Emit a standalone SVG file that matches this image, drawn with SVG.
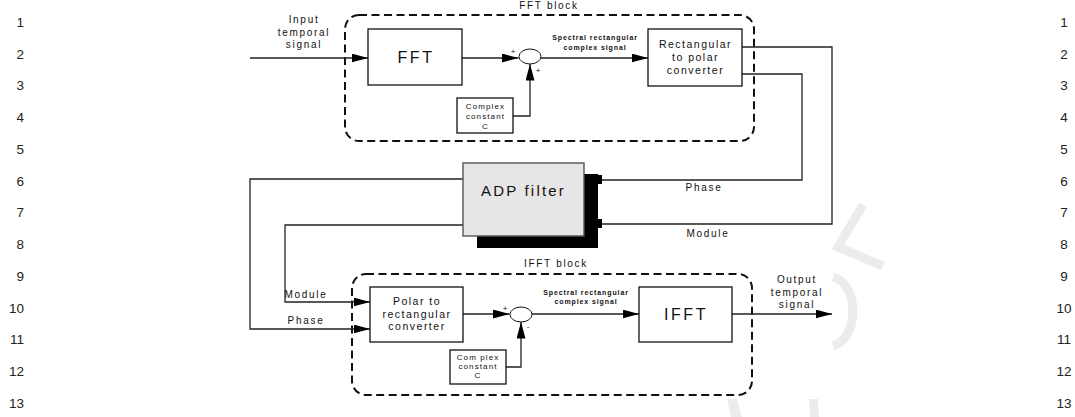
<svg xmlns="http://www.w3.org/2000/svg" width="1075" height="417" viewBox="0 0 1075 417">
<style>
text{font-family:"Liberation Sans",Arial,sans-serif;fill:#111}
.ln{font-size:13.5px;fill:#222}
.box{fill:#fff;stroke:#111;stroke-width:1.3}
.blk{fill:none;stroke:#111;stroke-width:2;stroke-dasharray:8 4.5}
.wire{fill:none;stroke:#222;stroke-width:1.3}
.sum{fill:#fff;stroke:#111;stroke-width:1}
.lbl{font-size:10px;letter-spacing:1.7px;text-anchor:middle}
.big{font-size:16px;letter-spacing:2.6px;text-anchor:middle}
.mid{font-size:10.5px;letter-spacing:1.5px;text-anchor:middle}
.cc{font-size:8px;letter-spacing:1.1px;text-anchor:middle}
.sp{font-size:7px;font-weight:bold;letter-spacing:0.9px;text-anchor:middle}
.sg{font-size:8px;text-anchor:middle}
.wm{fill:none;stroke:#ececec;stroke-width:9}
</style>
<defs>
<marker id="ah" markerUnits="userSpaceOnUse" markerWidth="17" markerHeight="10" refX="16.5" refY="4.5" orient="auto">
<path d="M0,0 L16.5,4.5 L0,9 z" fill="#000"/>
</marker>
</defs>

<g id="watermark">
<path class="wm" d="M863,205 L838,247 L883,266" stroke-width="10"/>
<path class="wm" d="M833,277 A24,35 0 0 1 833,346"/>
<path d="M727,399 L737,399 L742,417 L731,417 z" fill="#ececec"/>
<path d="M809,399 L818,399 L819,417 L810,417 z" fill="#ececec"/>
</g>

<g id="line-numbers-left">
<text class="ln" x="24" y="26.7" text-anchor="end">1</text>
<text class="ln" x="24" y="58.5" text-anchor="end">2</text>
<text class="ln" x="24" y="90.2" text-anchor="end">3</text>
<text class="ln" x="24" y="122" text-anchor="end">4</text>
<text class="ln" x="24" y="153.7" text-anchor="end">5</text>
<text class="ln" x="24" y="185.5" text-anchor="end">6</text>
<text class="ln" x="24" y="217.2" text-anchor="end">7</text>
<text class="ln" x="24" y="249" text-anchor="end">8</text>
<text class="ln" x="24" y="280.7" text-anchor="end">9</text>
<text class="ln" x="24" y="312.5" text-anchor="end">10</text>
<text class="ln" x="24" y="344.2" text-anchor="end">11</text>
<text class="ln" x="24" y="376" text-anchor="end">12</text>
<text class="ln" x="24" y="407.7" text-anchor="end">13</text>
</g>
<g id="line-numbers-right">
<text class="ln" x="1064" y="26.7" text-anchor="middle">1</text>
<text class="ln" x="1064" y="58.5" text-anchor="middle">2</text>
<text class="ln" x="1064" y="90.2" text-anchor="middle">3</text>
<text class="ln" x="1064" y="122" text-anchor="middle">4</text>
<text class="ln" x="1064" y="153.7" text-anchor="middle">5</text>
<text class="ln" x="1064" y="185.5" text-anchor="middle">6</text>
<text class="ln" x="1064" y="217.2" text-anchor="middle">7</text>
<text class="ln" x="1064" y="249" text-anchor="middle">8</text>
<text class="ln" x="1064" y="280.7" text-anchor="middle">9</text>
<text class="ln" x="1064" y="312.5" text-anchor="middle">10</text>
<text class="ln" x="1064" y="344.2" text-anchor="middle">11</text>
<text class="ln" x="1064" y="376" text-anchor="middle">12</text>
<text class="ln" x="1064" y="407.7" text-anchor="middle">13</text>
</g>

<g id="fft-block">
<rect class="blk" x="345" y="15" width="409" height="126" rx="14"/>
<text class="lbl" x="549" y="9">FFT block</text>
</g>
<g id="ifft-block">
<rect class="blk" x="352" y="274" width="400" height="121" rx="14"/>
<text class="lbl" x="556" y="267">IFFT block</text>
</g>

<g id="connectors">
<path class="wire" d="M250,58 L368,58" marker-end="url(#ah)"/>
<path class="wire" d="M462,58 L518.5,58" marker-end="url(#ah)"/>
<path class="wire" d="M513,116 L530,116 L530,64" marker-end="url(#ah)"/>
<path class="wire" d="M541,58 L648,58" marker-end="url(#ah)"/>
<path class="wire" d="M742,47 L832,47 L832,224 L598,224" stroke-width="1.6"/>
<path class="wire" d="M742,74 L802,74 L802,180 L598,180"/>
<path class="wire" d="M463,179 L250,179 L250,329 L370,329" marker-end="url(#ah)"/>
<path class="wire" d="M463,225 L285,225 L285,302 L370,302" marker-end="url(#ah)"/>
<path class="wire" d="M463,314 L509.5,314" marker-end="url(#ah)"/>
<path class="wire" d="M506,367 L521,367 L521,322" marker-end="url(#ah)"/>
<path class="wire" d="M532,314 L639,314" marker-end="url(#ah)"/>
<path class="wire" d="M732,314 L832,314" marker-end="url(#ah)"/>
</g>

<g id="labels">
<text class="lbl" x="304" y="23">Input</text>
<text class="lbl" x="304" y="35.5">temporal</text>
<text class="lbl" x="304" y="48">signal</text>
<text class="sp" x="595" y="40">Spectral rectangular</text>
<text class="sp" x="595" y="50">complex signal</text>
<text class="sg" x="513" y="54">+</text>
<text class="sg" x="538" y="73">+</text>
<text class="lbl" x="704" y="191">Phase</text>
<text class="lbl" x="708" y="237">Module</text>
<text class="lbl" x="306" y="298" text-anchor="start">Module</text>
<text class="lbl" x="306" y="324" text-anchor="start">Phase</text>
<text class="sp" x="586" y="295">Spectral rectangular</text>
<text class="sp" x="586" y="303.5">complex signal</text>
<text class="sg" x="505" y="311">+</text>
<text class="sg" x="528" y="329">-</text>
<text class="lbl" x="797" y="283">Output</text>
<text class="lbl" x="797" y="295.5">temporal</text>
<text class="lbl" x="797" y="308">signal</text>
</g>

<g id="fft">
<rect class="box" x="368" y="29" width="94" height="56"/>
<text class="big" x="416" y="63">FFT</text>
</g>
<g id="sum-top">
<ellipse class="sum" cx="530" cy="56.5" rx="11" ry="7.5"/>
</g>
<g id="const-top">
<rect class="box" x="457" y="98" width="56" height="35"/>
<text class="cc" x="485.5" y="109">Complex</text>
<text class="cc" x="485.5" y="119">constant</text>
<text class="cc" x="485.5" y="128.5">C</text>
</g>
<g id="rect-to-polar">
<rect class="box" x="648" y="29" width="94" height="57"/>
<text class="mid" x="695.5" y="48">Rectangular</text>
<text class="mid" x="695.5" y="61">to polar</text>
<text class="mid" x="695.5" y="74">converter</text>
</g>
<g id="adp-filter">
<rect x="477" y="174" width="121" height="74" fill="#000"/>
<rect x="596" y="175" width="6" height="9" fill="#000"/>
<rect x="596" y="219" width="6" height="9" fill="#000"/>
<rect x="463" y="163" width="121" height="73" fill="#e6e6e6" stroke="#555" stroke-width="1.4"/>
<text x="523.5" y="196" font-size="15" letter-spacing="2.2" text-anchor="middle">ADP filter</text>
</g>
<g id="polar-to-rect">
<rect class="box" x="370" y="287" width="93" height="55"/>
<text class="mid" x="417" y="305">Polar to</text>
<text class="mid" x="417" y="317.5">rectangular</text>
<text class="mid" x="417" y="330">converter</text>
</g>
<g id="sum-bottom">
<ellipse class="sum" cx="521" cy="314.5" rx="11" ry="7.5"/>
</g>
<g id="const-bottom">
<rect class="box" x="450" y="350" width="56" height="34"/>
<text class="cc" x="478" y="359.5">Com plex</text>
<text class="cc" x="478" y="368.5">constant</text>
<text class="cc" x="478" y="378">C</text>
</g>
<g id="ifft">
<rect class="box" x="639" y="287" width="93" height="55"/>
<text class="big" x="686" y="320">IFFT</text>
</g>
</svg>
